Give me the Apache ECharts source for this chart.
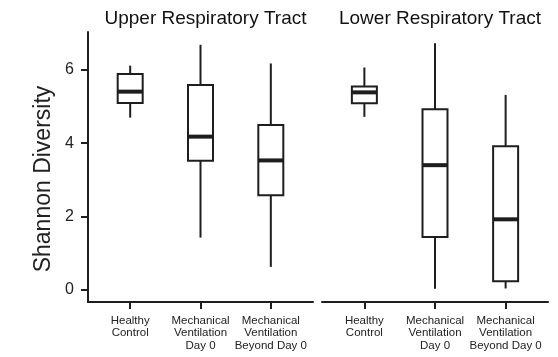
<!DOCTYPE html>
<html>
<head>
<meta charset="utf-8">
<script src="https://cdn.jsdelivr.net/npm/echarts@6/dist/echarts.min.js"></script>
<style>html,body{margin:0;padding:0;background:#fff}#chart{width:558px;height:357px}</style>
</head>
<body>
<div id="chart"></div>
<script>
const categories = ['Healthy\nControl', 'Mechanical\nVentilation\nDay 0', 'Mechanical\nVentilation\nBeyond Day 0'];
const categoryPositions = [1, 2, 3];
const panelTitles = ['Upper Respiratory Tract', 'Lower Respiratory Tract'];
const yTicks = [0, 2, 4, 6];
const yAxisName = 'Shannon Diversity';
// each: [min, Q1, median, Q3, max]
const upperHealthy = [4.70, 5.10, 5.41, 5.89, 6.12];
const upperMvDay0 = [1.42, 3.52, 4.18, 5.59, 6.69];
const upperMvBeyond = [0.62, 2.58, 3.53, 4.50, 6.18];
const lowerHealthy = [4.72, 5.09, 5.39, 5.55, 6.07];
const lowerMvDay0 = [0.02, 1.44, 3.40, 4.93, 6.73];
const lowerMvBeyond = [0.03, 0.23, 1.92, 3.92, 5.32];

const upperBoxes = [upperHealthy, upperMvDay0, upperMvBeyond];
const lowerBoxes = [lowerHealthy, lowerMvDay0, lowerMvBeyond];

const INK = '#1e1e1e';
const FONT = "'Liberation Sans', Arial, Helvetica, sans-serif";
const BOX_W = 25;

function toData(boxes) {
  return boxes.map((b, i) => [categoryPositions[i]].concat(b));
}

function renderBox(params, api) {
  const x = api.value(0);
  const pMin = api.coord([x, api.value(1)]);
  const pQ1 = api.coord([x, api.value(2)]);
  const pMed = api.coord([x, api.value(3)]);
  const pQ3 = api.coord([x, api.value(4)]);
  const pMax = api.coord([x, api.value(5)]);
  const hw = BOX_W / 2;
  const lineStyle = { stroke: INK, lineWidth: 2, fill: null };
  return {
    type: 'group',
    children: [
      { type: 'line', shape: { x1: pMax[0], y1: pMax[1], x2: pQ3[0], y2: pQ3[1] }, style: lineStyle },
      { type: 'line', shape: { x1: pQ1[0], y1: pQ1[1], x2: pMin[0], y2: pMin[1] }, style: lineStyle },
      { type: 'rect', shape: { x: pQ3[0] - hw, y: pQ3[1], width: BOX_W, height: pQ1[1] - pQ3[1] },
        style: { fill: '#fff', stroke: INK, lineWidth: 2 } },
      { type: 'line', shape: { x1: pMed[0] - hw, y1: pMed[1], x2: pMed[0] + hw, y2: pMed[1] },
        style: { stroke: INK, lineWidth: 4 } }
    ]
  };
}

function xAxis(gridIndex) {
  return {
    type: 'value', gridIndex: gridIndex, min: 0.4, max: 3.6,
    axisLine: { show: true, onZero: false, lineStyle: { color: INK, width: 2 } },
    axisTick: { show: true, length: 7, lineStyle: { color: INK, width: 2 }, customValues: categoryPositions },
    axisLabel: {
      show: true, customValues: categoryPositions, margin: 12,
      formatter: v => categories[Math.round(v) - 1] || '',
      fontFamily: FONT, fontSize: 11.5, lineHeight: 12.7, color: '#222', align: 'center'
    },
    splitLine: { show: false }
  };
}

const chart = echarts.init(document.getElementById('chart'), null, { renderer: 'canvas' });
chart.setOption({
  animation: false,
  backgroundColor: '#fff',
  title: [
    { text: panelTitles[0], left: 200.5, top: 4, textAlign: 'center',
      textStyle: { fontFamily: FONT, fontSize: 19, fontWeight: 'normal', color: '#111' } },
    { text: panelTitles[1], left: 435, top: 4, textAlign: 'center',
      textStyle: { fontFamily: FONT, fontSize: 19, fontWeight: 'normal', color: '#111' } }
  ],
  grid: [
    { left: 88, top: 32, width: 225, bottom: 55 },
    { left: 322, top: 32, width: 226, bottom: 55 }
  ],
  xAxis: [xAxis(0), xAxis(1)],
  yAxis: [
    {
      type: 'value', gridIndex: 0, min: -0.34, max: 7.04,
      name: yAxisName, nameLocation: 'middle', nameGap: 33,
      nameTextStyle: { fontFamily: FONT, fontSize: 23, color: '#222', padding: [0, 24, 0, 0] },
      axisLine: { show: true, onZero: false, lineStyle: { color: INK, width: 2 } },
      axisTick: { show: true, length: 7, lineStyle: { color: INK, width: 2 }, customValues: yTicks },
      axisLabel: { show: true, customValues: yTicks, margin: 14, fontFamily: FONT, fontSize: 16, color: '#222' },
      splitLine: { show: false }
    },
    {
      type: 'value', gridIndex: 1, min: -0.34, max: 7.04, show: false,
      splitLine: { show: false }
    }
  ],
  series: [
    { type: 'custom', xAxisIndex: 0, yAxisIndex: 0, renderItem: renderBox,
      encode: { x: 0, y: [1, 2, 3, 4, 5] }, data: toData(upperBoxes) },
    { type: 'custom', xAxisIndex: 1, yAxisIndex: 1, renderItem: renderBox,
      encode: { x: 0, y: [1, 2, 3, 4, 5] }, data: toData(lowerBoxes) }
  ]
});
</script>
</body>
</html>
